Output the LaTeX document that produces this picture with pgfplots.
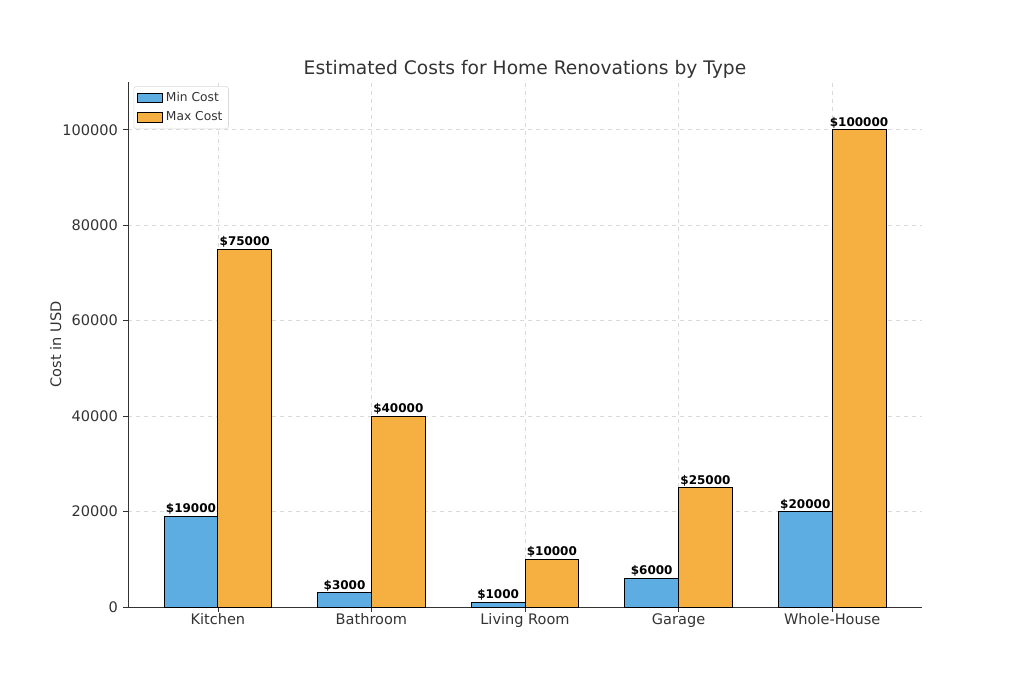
\documentclass[border=0pt]{standalone}
\usepackage{pgfplots}
\pgfplotsset{compat=1.18}
\usepackage{fontspec}
\setmainfont{DejaVu Sans}
\definecolor{minc}{HTML}{5DADE2}
\definecolor{maxc}{HTML}{F5B041}
\definecolor{txt}{HTML}{333333}
\begin{document}
\begin{tikzpicture}
\path[use as bounding box] (0pt,0pt) rectangle (768pt,512.25pt);
\begin{axis}[
  at={(96pt,57pt)}, anchor=south west,
  scale only axis, width=595.5pt, height=393.75pt,
  ybar, bar width=0.35,
  xmin=-0.585, xmax=4.585, ymin=0, ymax=110000,
  xtick={0,1,2,3,4},
  xticklabels={Kitchen,Bathroom,Living Room,Garage,Whole-House},
  ytick={0,20000,40000,60000,80000,100000},
  scaled y ticks=false,
  yticklabel style={/pgf/number format/fixed,/pgf/number format/1000 sep={}},
  xticklabel style={yshift=2.5pt},
  /pgf/number format/assume math mode=true,
  ticklabel style={font=\fontsize{10.9}{12}\selectfont, text=txt},
  axis x line*=bottom, axis y line*=left,
  axis line style={-, black!80},
  tick align=outside, tick style={black!80, thin},
  major tick length=4pt,
  grid=major, grid style={dashed, gray!30, line width=0.5pt},
  ylabel={Cost in USD},
  ylabel style={font=\fontsize{10.9}{12}\selectfont, text=txt, yshift=-6pt},
  title={Estimated Costs for Home Renovations by Type},
  title style={font=\fontsize{14}{16}\selectfont, text=txt, yshift=-6.5pt},
  legend style={at={(0.007,0.992)}, anchor=north west, font=\fontsize{9.2}{10}\selectfont, draw=gray!30, rounded corners=2pt, text=txt, row sep=2pt, inner sep=2.5pt},
  legend cell align=left,
  legend image code/.code={\draw[#1, sharp corners] (0pt,-3.5pt) rectangle (19pt,3.5pt);},
  nodes near coords={\$\pgfmathprintnumber[fixed,1000 sep={}]{\pgfplotspointmeta}},
  nodes near coords style={font=\bfseries\fontsize{9}{10}\selectfont, black, inner sep=1pt, anchor=south},
  point meta=y,
]
\addplot[bar shift=-0.175, fill=minc, draw=black, line width=0.6pt]
  coordinates {(0,19000) (1,3000) (2,1000) (3,6000) (4,20000)};
\addlegendentry{Min Cost}
\addplot[bar shift=0.175, fill=maxc, draw=black, line width=0.6pt]
  coordinates {(0,75000) (1,40000) (2,10000) (3,25000) (4,100000)};
\addlegendentry{Max Cost}
\end{axis}
\end{tikzpicture}
\end{document}
